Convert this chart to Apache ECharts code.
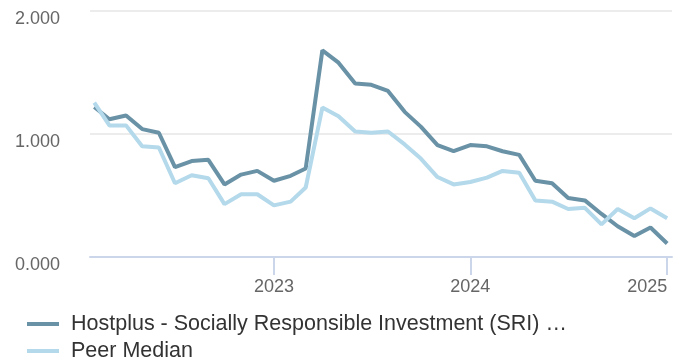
<!DOCTYPE html>
<html>
<head>
<meta charset="utf-8">
<script src="https://cdn.jsdelivr.net/npm/echarts@6/dist/echarts.min.js"></script>
<style>
  html, body { margin: 0; padding: 0; background: #ffffff; }
  #chart { width: 682px; height: 362px; }
</style>
</head>
<body>
<div id="chart"></div>
<script>
// Monthly observation dates
const months = [
  '2022-02-01','2022-03-01','2022-04-01','2022-05-01','2022-06-01','2022-07-01',
  '2022-08-01','2022-09-01','2022-10-01','2022-11-01','2022-12-01','2023-01-01',
  '2023-02-01','2023-03-01','2023-04-01','2023-05-01','2023-06-01','2023-07-01',
  '2023-08-01','2023-09-01','2023-10-01','2023-11-01','2023-12-01','2024-01-01',
  '2024-02-01','2024-03-01','2024-04-01','2024-05-01','2024-06-01','2024-07-01',
  '2024-08-01','2024-09-01','2024-10-01','2024-11-01','2024-12-01','2025-01-01'
];

// Fund series
const fundName = 'Hostplus - Socially Responsible Investment (SRI) …';
const fundValues = [
  1.22, 1.12, 1.15, 1.04, 1.01, 0.73, 0.78, 0.79, 0.59, 0.67, 0.70, 0.62,
  0.66, 0.72, 1.68, 1.58, 1.41, 1.40, 1.35, 1.18, 1.06, 0.91, 0.86, 0.91,
  0.90, 0.86, 0.83, 0.62, 0.60, 0.48, 0.46, 0.35, 0.25, 0.17, 0.24, 0.11
];

// Peer median series
const peerName = 'Peer Median';
const peerValues = [
  1.255, 1.07, 1.07, 0.90, 0.89, 0.60, 0.665, 0.64, 0.43, 0.51, 0.51, 0.42,
  0.45, 0.565, 1.215, 1.145, 1.02, 1.01, 1.02, 0.915, 0.80, 0.65, 0.59, 0.61,
  0.645, 0.70, 0.685, 0.46, 0.45, 0.39, 0.40, 0.265, 0.39, 0.315, 0.395, 0.315
];

// Value axis ticks
const yTicks = [0, 1, 2];

// Time axis range
const xMin = '2022-01-24';
const xMax = '2025-01-10';

const pair = (vals) => months.map((d, i) => [d, vals[i]]);

const chart = echarts.init(document.getElementById('chart'), null, { renderer: 'canvas' });

const fontFamily = '"Liberation Sans", Arial, Helvetica, sans-serif';
const xMaxTime = new Date(xMax).getTime();
const YEAR_MS = 365 * 24 * 3600 * 1000;

const legendBase = {
  orient: 'vertical',
  left: 27,
  padding: 0,
  itemWidth: 32,
  itemHeight: 4,
  icon: 'rect',
  textStyle: { fontFamily, fontSize: 21.5, color: '#333333', padding: [0, 0, 0, 7] }
};

chart.setOption({
  animation: false,
  backgroundColor: '#ffffff',
  grid: { left: 90, right: 10, top: 11, bottom: 105, containLabel: false, outerBoundsMode: 'none' },
  legend: [
    Object.assign({}, legendBase, { top: 313, data: [fundName] }),
    Object.assign({}, legendBase, { top: 340, data: [peerName] })
  ],
  xAxis: {
    type: 'time',
    min: xMin,
    max: xMax,
    minInterval: YEAR_MS,
    splitNumber: 3,
    axisLine: { show: true, lineStyle: { color: '#ccd6eb', width: 2 } },
    axisTick: { show: true, length: 18, lineStyle: { color: '#ccd6eb', width: 2 } },
    axisLabel: {
      show: true,
      margin: 21,
      color: '#666666',
      fontFamily,
      fontSize: 18,
      showMinLabel: false,
      showMaxLabel: false,
      // the final year label is pulled inside the plot edge
      formatter: (v) => {
        const y = String(new Date(v).getFullYear());
        return (xMaxTime - v < YEAR_MS / 4) ? '{edge|' + y + '}' : y;
      },
      rich: {
        edge: { fontFamily, fontSize: 18, color: '#666666', padding: [0, 40, 0, 0] }
      }
    },
    splitLine: { show: false }
  },
  yAxis: {
    type: 'value',
    min: yTicks[0],
    max: yTicks[yTicks.length - 1],
    interval: 1,
    axisLine: { show: false },
    axisTick: { show: false },
    axisLabel: {
      margin: 30,
      color: '#666666',
      fontFamily,
      fontSize: 18,
      verticalAlign: 'top',
      lineHeight: 16,
      formatter: (v) => v.toFixed(3)
    },
    splitLine: { show: true, lineStyle: { color: '#e6e6e6', width: 1.5 } }
  },
  series: [
    {
      name: fundName,
      type: 'line',
      data: pair(fundValues),
      showSymbol: false,
      color: '#6a92a6',
      lineStyle: { width: 4, color: '#6a92a6' },
      emphasis: { disabled: true }
    },
    {
      name: peerName,
      type: 'line',
      data: pair(peerValues),
      showSymbol: false,
      color: '#b3d9eb',
      lineStyle: { width: 4, color: '#b3d9eb' },
      emphasis: { disabled: true }
    }
  ]
});
</script>
</body>
</html>
